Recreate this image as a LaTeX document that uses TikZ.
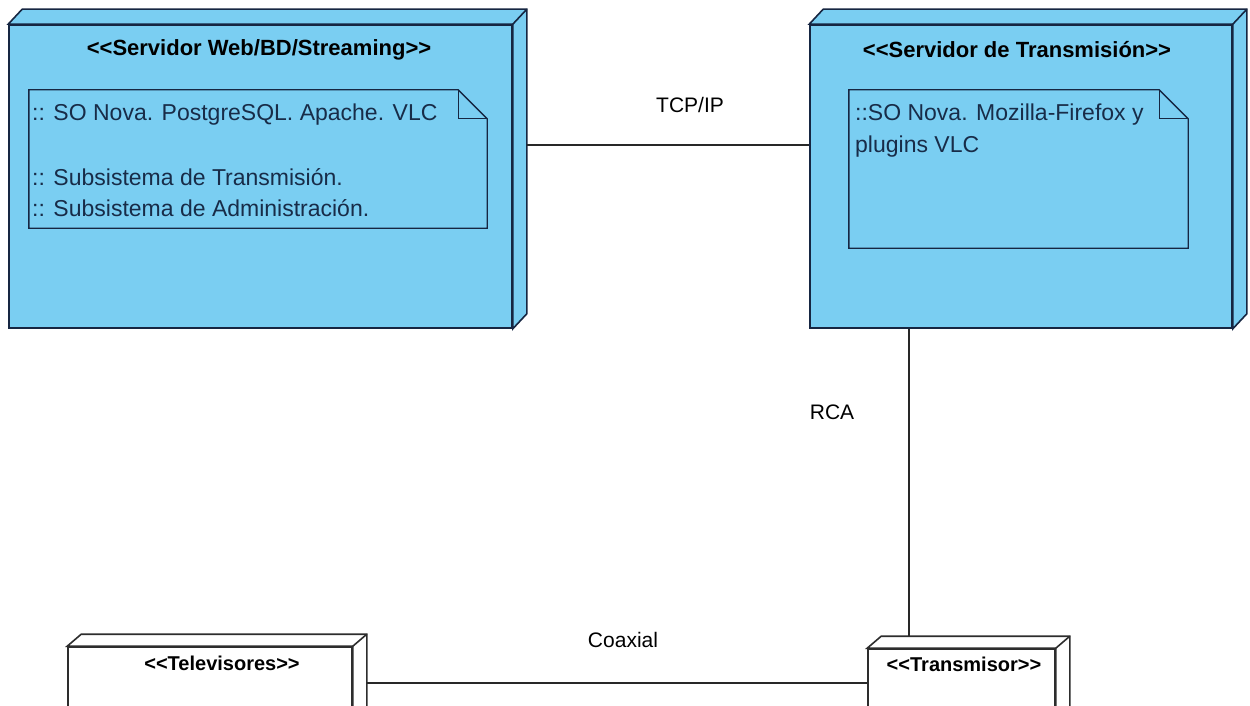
\documentclass[tikz,border=0pt]{standalone}
\usepackage{fontspec}
\setmainfont{Liberation Sans}[Ligatures=TeXOff]
\definecolor{nodefill}{RGB}{122,206,242}
\definecolor{edge}{RGB}{22,38,66}
\definecolor{plainedge}{RGB}{45,45,45}
\definecolor{notetext}{RGB}{24,44,72}
\definecolor{wire}{RGB}{40,40,40}
\begin{document}
\begin{tikzpicture}[x=1pt,y=-1pt,
  front/.style={rectangle, draw=edge, line width=1.6pt, inner sep=0pt},
  depthface/.style={draw=edge, line width=1.6pt, line join=miter},
  notebox/.style={rectangle, inner sep=0pt},
  notepath/.style={draw=edge, line width=1.4pt, line join=miter},
  stereo/.style={font=\fontsize{22}{26}\selectfont\bfseries, text=black, inner sep=0pt},
  smallstereo/.style={font=\fontsize{20}{24}\selectfont\bfseries, text=black, inner sep=0pt},
  notetxt/.style={font=\fontsize{23}{28}\selectfont, text=notetext, anchor=base west, inner sep=0pt},
  wirelabel/.style={font=\fontsize{21}{25}\selectfont, text=black, inner sep=0pt},
  wireline/.style={draw=wire, line width=1.5pt}]
\useasboundingbox (0,0) rectangle (1250,706);
\fill[white] (0,0) rectangle (1250,706);

% ---------- Servidor Web/BD/Streaming ----------
\node[front, fill=nodefill, minimum width=503pt, minimum height=303pt] (s1) at (260.5,176.5) {};
\filldraw[depthface, fill=nodefill] (s1.north west) -- ++(14,-15) -- ([shift={(14,-15)}]s1.north east)
  -- ([shift={(14,-15)}]s1.south east) -- (s1.south east) -- (s1.north east) -- cycle;
\draw[depthface] (s1.north east) -- ++(14,-15);
\node[stereo] (s1h) at (259,50) {<<Servidor Web/BD/Streaming>>};
\node[notebox, minimum width=458pt, minimum height=138pt] (n1) at (258,159) {};
\path[notepath] (n1.north west) -- ([shift={(-29,0)}]n1.north east) -- ([shift={(0,29)}]n1.north east)
  -- (n1.south east) -- (n1.south west) -- cycle;
\path[notepath] ([shift={(-29,0)}]n1.north east) -- ([shift={(-29,29)}]n1.north east) -- ([shift={(0,29)}]n1.north east);
\node[notetxt] (n1a) at (32,121) {:: SO Nova. PostgreSQL. Apache. VLC};
\node[notetxt] (n1b) at (32,185) {:: Subsistema de Transmisión.};
\node[notetxt] (n1c) at (32,216) {:: Subsistema de Administración.};

% ---------- Servidor de Transmisión ----------
\node[front, fill=nodefill, minimum width=422pt, minimum height=303pt] (s2) at (1021,176.5) {};
\filldraw[depthface, fill=nodefill] (s2.north west) -- ++(14,-15) -- ([shift={(14,-15)}]s2.north east)
  -- ([shift={(14,-15)}]s2.south east) -- (s2.south east) -- (s2.north east) -- cycle;
\draw[depthface] (s2.north east) -- ++(14,-15);
\node[stereo] (s2h) at (1017,50) {<<Servidor de Transmisión>>};
\node[notebox, minimum width=339pt, minimum height=158pt] (n2) at (1018.5,169) {};
\path[notepath] (n2.north west) -- ([shift={(-29,0)}]n2.north east) -- ([shift={(0,29)}]n2.north east)
  -- (n2.south east) -- (n2.south west) -- cycle;
\path[notepath] ([shift={(-29,0)}]n2.north east) -- ([shift={(-29,29)}]n2.north east) -- ([shift={(0,29)}]n2.north east);
\node[notetxt] (n2a) at (855,121) {::SO Nova. Mozilla-Firefox y};
\node[notetxt] (n2b) at (855,153) {plugins VLC};

% ---------- Televisores ----------
\node[front, draw=plainedge, fill=white, minimum width=284pt, minimum height=160pt] (tv) at (210,727) {};
\filldraw[depthface, draw=plainedge, fill=white] (tv.north west) -- ++(14,-12) -- ([shift={(14,-12)}]tv.north east)
  -- ([shift={(14,-12)}]tv.south east) -- (tv.south east) -- (tv.north east) -- cycle;
\draw[depthface, draw=plainedge] (tv.north east) -- ++(14,-12);
\node[smallstereo] (tvh) at (222,663) {<<Televisores>>};

% ---------- Transmisor ----------
\node[front, draw=plainedge, fill=white, minimum width=187pt, minimum height=160pt] (tr) at (961.5,729) {};
\filldraw[depthface, draw=plainedge, fill=white] (tr.north west) -- ++(14,-12) -- ([shift={(14,-12)}]tr.north east)
  -- ([shift={(14,-12)}]tr.south east) -- (tr.south east) -- (tr.north east) -- cycle;
\draw[depthface, draw=plainedge] (tr.north east) -- ++(14,-12);
\node[smallstereo] (trh) at (964,664) {<<Transmisor>>};

% ---------- connectors ----------
\coordinate (s1r) at ([xshift=14pt]s1.east);
\coordinate (tvr) at ([xshift=14pt]tv.east);
\coordinate (tcpy) at (0,145);
\coordinate (rcax) at (909,0);
\coordinate (coaxy) at (0,683);
\coordinate (trtop) at ([yshift=12pt]tr.north);
\draw[wireline] (s1r |- tcpy) -- (s2.west |- tcpy);
\draw[wireline] (rcax |- s2.south) -- (rcax |- trtop);
\draw[wireline] (tvr |- coaxy) -- (tr.west |- coaxy);
\node[wirelabel] (ltcp) at (690,105) {TCP/IP};
\node[wirelabel] (lrca) at (832,412) {RCA};
\node[wirelabel] (lcoax) at (623,640) {Coaxial};
\end{tikzpicture}
\end{document}
